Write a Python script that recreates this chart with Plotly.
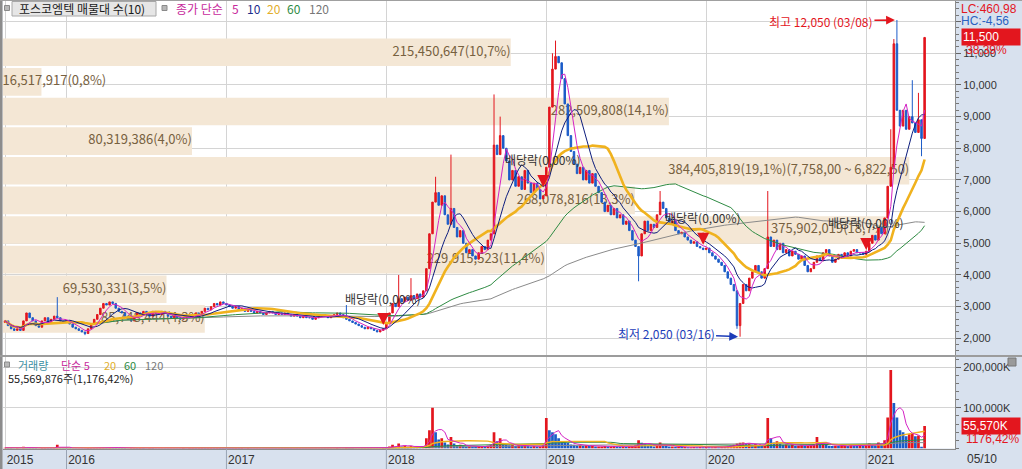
import numpy as np
import pandas as pd
import plotly.graph_objects as go

W, H = 1022, 469
FONT = "Noto Sans CJK KR"
NUM_FONT = "Liberation Sans"

# ---------------- data (weekly candles, KRW) ----------------
CLOSE_2015 = [2550, 2400, 2300, 2250, 2300, 2250, 2550, 2800, 2650, 2550, 2400, 2350, 2550, 2650,
              2500, 2600, 2700, 2650, 2550, 2500, 2550]
CLOSE_2016 = [2450, 2350, 2300, 2250, 2200, 2150, 2300, 2450, 2600, 2750, 2950, 3100, 3050, 3150,
              3100, 2950, 2850, 2800, 2700, 2600, 2550, 2650, 2800, 2750, 2850, 2800, 2700, 2850,
              2800, 2750, 2850, 2800, 2700, 2650, 2700, 2650, 2600, 2650, 2700, 2650, 2700, 2800,
              2750, 2850, 2950, 2900, 3000, 3100, 3050, 3150, 3100, 3050]
CLOSE_2017 = [3000, 2950, 3000, 2900, 2950, 2850, 2900, 2850, 2800, 2850, 2800, 2750, 2800, 2850,
              2800, 2750, 2800, 2750, 2800, 2750, 2700, 2750, 2700, 2650, 2700, 2650, 2650, 2600,
              2650, 2700, 2750, 2700, 2650, 2700, 2750, 2800, 2750, 2650, 2600, 2550, 2500, 2450,
              2400, 2350, 2300, 2350, 2300, 2250, 2200, 2250, 2300]
CLOSE_2018 = [2500, 2800, 3100, 3000, 3250, 3150, 3300, 3200, 3350, 3250, 3400, 3300, 3500, 4200,
              5300, 6300, 6600, 6200, 6500, 5900, 5600, 6100, 5500, 5200, 5400, 5000, 4700, 4800,
              4600, 4500, 4700, 4900, 4800, 5100, 5300, 8100, 7800, 8400, 8000, 7600, 7000, 7300,
              6800, 7100, 6700, 7300, 6900, 6600, 6900, 6700, 6400, 6500, 7400]
CLOSE_2019 = [9300, 10500, 10900, 10700, 10200, 9400, 8400, 7900, 7500, 7200, 7400, 7000, 7300,
              6900, 7200, 6800, 6600, 6300, 6000, 6200, 5900, 6100, 5800, 5900, 5600, 5700, 5400,
              5100, 4900, 4600, 5300, 5700, 5400, 5600, 5500, 5900, 6300, 6100, 5800, 5600, 5700,
              5400, 5300, 5350, 5200, 5100, 5000, 5050, 4900, 4850, 4800, 4850]
CLOSE_2020 = [4700, 4600, 4500, 4400, 4300, 4100, 3900, 3700, 3500, 2400, 3100, 3700, 3500, 3900,
              4100, 4300, 4100, 3900, 4200, 5200, 4900, 5100, 4800, 5000, 4700, 4800, 4600, 4750,
              4650, 4500, 4600, 4300, 4100, 4200, 4400, 4600, 4450, 4700, 4800, 4600, 4400, 4500,
              4650, 4550, 4700, 4600, 4750, 4800, 4700, 4700, 4650, 4750]
CLOSE_2021 = [5000, 5250, 5100, 5500, 5300, 5800, 6800, 7400, 11300, 9200, 8700, 9200, 8600, 9000,
              8800, 8500, 8900, 8310, 11500]
FIRST_OPEN = 2500

HIGH_MARKS = {"2015-12-07": 3300, "2017-09-25": 3050, "2018-01-29": 4000, "2018-02-26": 3900,
              "2018-04-23": 7100, "2018-05-28": 7800, "2018-09-03": 9700, "2018-09-17": 9000,
              "2019-01-14": 11000, "2019-01-21": 11400, "2019-09-16": 6650, "2020-05-18": 6650,
              "2021-02-22": 8600, "2021-03-01": 11450, "2021-03-08": 12050, "2021-04-12": 10150,
              "2021-04-26": 9750}
LOW_MARKS = {"2016-02-08": 2100, "2019-07-29": 3800, "2020-03-09": 2300, "2020-03-16": 2050,
             "2021-05-03": 7750}

# weekly volume, thousand shares
VOLUME_2015 = [1800, 1300, 1000, 900, 1100, 800, 4500, 3800, 1900, 1300, 1000, 900, 1200, 1600,
               1100, 1000, 1900, 9500, 2600, 1400, 1200]
VOLUME_2016 = [1000, 900, 800, 800, 700, 900, 1400, 1800, 2200, 2600, 3400, 3800, 2900, 3300, 2400,
               1700, 1300, 1100, 1000, 900, 1100, 1300, 1000, 1200, 1000, 900, 1100, 1000, 900, 800,
               900, 800, 700, 800, 900, 800, 900, 1000, 900, 1100, 1200, 1000, 1300, 1600, 1400,
               1800, 2100, 1700, 2300, 1900, 1500, 1300]
VOLUME_2017 = [1200, 1100, 1300, 1000, 1100, 900, 1000, 900, 800, 900, 800, 700, 800, 900, 800, 700,
               800, 700, 800, 700, 600, 700, 600, 700, 600, 600, 600, 700, 800, 900, 800, 700, 700,
               800, 900, 1000, 900, 800, 3200, 1500, 1100, 900, 800, 700, 700, 600, 600, 700, 800,
               900, 1100]
VOLUME_2018 = [2500, 5000, 9000, 4000, 12000, 5000, 7000, 4000, 6000, 3500, 5000, 3500, 6000, 25000,
               45000, 100000, 40000, 22000, 25000, 15000, 10000, 28000, 12000, 8000, 9000, 7000,
               5000, 5000, 4500, 4000, 5000, 6000, 5000, 7000, 9000, 40000, 18000, 25000, 12000,
               9000, 8000, 9000, 6000, 8000, 6000, 9000, 6000, 5000, 6000, 5000, 5000, 8000, 75000]
VOLUME_2019 = [45000, 40000, 35000, 25000, 16000, 15000, 14000, 10000, 9000, 7000, 8000, 6000, 8000,
               6000, 7000, 5000, 5000, 5000, 6000, 5000, 5000, 6000, 5000, 4500, 5000, 4000, 5000,
               6000, 8000, 20000, 14000, 12000, 7000, 6000, 5000, 8000, 15000, 9000, 6000, 5000,
               5000, 4000, 4000, 3500, 3500, 3000, 3000, 3500, 3000, 3500, 3000, 3500]
VOLUME_2020 = [3000, 3000, 3500, 3000, 4000, 5000, 6000, 7000, 9000, 12000, 14000, 15000, 12000,
               12000, 10000, 11000, 7000, 6000, 9000, 75000, 25000, 15000, 18000, 12000, 9000, 10000,
               8000, 9000, 7000, 7000, 8000, 6000, 6000, 8000, 10000, 28000, 10000, 12000, 10000,
               7000, 6000, 7000, 6000, 6000, 7000, 6000, 8000, 7000, 6000, 7000, 6000, 8000]
VOLUME_2021 = [12000, 9000, 8000, 15000, 10000, 20000, 76000, 193000, 112000, 76000, 45000, 40000,
               30000, 35000, 38000, 30000, 32000, 4354, 55570]

NO_TRADE_WEEKS = ["2017-10-02"]

# volume profile (매물대), bottom band first
PROFILE_LOW, PROFILE_HIGH = 2145.0, 11500.0
PROFILE_VOLUMES = [85748444, 69530331, 229915523, 375902019, 268078816, 384405819, 80319386,
                   282509808, 16517917, 215450647]

EX_DIV_WEEKS = ["2017-12-25", "2018-12-24", "2019-12-23", "2020-12-28"]
EX_DIV_LEVEL = [2420, 6780, 4950, 4790]

YEAR_TICKS = ["2015-08-10", "2015-12-28", "2016-12-26", "2018-01-01", "2018-12-31", "2019-12-30",
              "2020-12-28"]
YEAR_LABELS = ["2015", "2016", "2017", "2018", "2019", "2020", "2021"]

# ---------------- derived ----------------
weeks = pd.date_range("2015-08-10", "2021-05-10", freq="W-MON")
weeks = weeks[~weeks.isin(pd.to_datetime(NO_TRADE_WEEKS))]
dates = [d.strftime("%Y-%m-%d") for d in weeks]
close = CLOSE_2015 + CLOSE_2016 + CLOSE_2017 + CLOSE_2018 + CLOSE_2019 + CLOSE_2020 + CLOSE_2021
volume = VOLUME_2015 + VOLUME_2016 + VOLUME_2017 + VOLUME_2018 + VOLUME_2019 + VOLUME_2020 + VOLUME_2021
assert len(close) == len(dates) == len(volume), (len(close), len(dates), len(volume))

opens = [FIRST_OPEN] + close[:-1]
high = [max(o, c) for o, c in zip(opens, close)]
low = [min(o, c) for o, c in zip(opens, close)]
for d, v in HIGH_MARKS.items():
    high[dates.index(d)] = v
for d, v in LOW_MARKS.items():
    low[dates.index(d)] = v

cs = pd.Series(close, dtype=float)
vs = pd.Series(volume, dtype=float)

RED = "#E3161E"
BLUE = "#1C5CC8"
C_MA5, C_MA10, C_MA20, C_MA60, C_MA120 = "#D424C4", "#0E1E7E", "#F0B21E", "#2E8B43", "#8A8A8A"
GRID = "#D4D4D4"
PANEL = "#D8E1EE"

def px(x):
    return x / W

def py(y):
    return 1 - y / H

X0, X1 = 2.5, 955.0
SLOT, FIRST_X = 3.0756, 5.0
PRICE_PX, Y2000 = 0.03167, 338.3
price_top = 2000 + Y2000 / PRICE_PX
price_bot = 2000 - (355 - Y2000) / PRICE_PX

edges = np.linspace(PROFILE_LOW, PROFILE_HIGH, len(PROFILE_VOLUMES) + 1)
step = edges[1] - edges[0]
centers = (edges[:-1] + edges[1:]) / 2
total = sum(PROFILE_VOLUMES)
vmax = max(PROFILE_VOLUMES)
PROFILE_SPAN = vmax / 0.952
lab_x, lab_t, lab_p = [], [], []
for k, v in enumerate(PROFILE_VOLUMES):
    lab = f"{v:,}({v / total * 100:.1f}%)".replace(".", ",")
    if v == vmax:
        lab += f"({edges[k + 1]:,.2f} ~ {edges[k]:,.2f})".replace(".", ",")
    band_px = v / PROFILE_SPAN * (X1 - X0)
    if band_px >= 7.0 * len(lab) + 4:
        lab_x.append(v); lab_p.append("middle left")
    else:
        lab_x.append(0); lab_p.append("middle right")
    lab_t.append(lab)

fig = go.Figure()
fig.add_trace(go.Bar(x=PROFILE_VOLUMES, y=centers, orientation="h", width=step * 0.93,
                     marker=dict(color="#F4E7D5", line=dict(width=0)), xaxis="x", yaxis="y",
                     hoverinfo="skip"))
fig.add_trace(go.Scatter(x=lab_x, y=centers, mode="text", text=lab_t, textposition=lab_p,
                         textfont=dict(family=FONT, size=13, color="#77613F"), xaxis="x", yaxis="y",
                         hoverinfo="skip"))
fig.add_trace(go.Candlestick(x=dates, open=opens, high=high, low=low, close=close,
                             xaxis="x2", yaxis="y", whiskerwidth=0, hoverinfo="none",
                             increasing=dict(line=dict(color=RED, width=1), fillcolor=RED),
                             decreasing=dict(line=dict(color=BLUE, width=1), fillcolor=BLUE)))
for n, col, wd in [(120, C_MA120, 1), (60, C_MA60, 1), (20, C_MA20, 2.6), (10, C_MA10, 1), (5, C_MA5, 1)]:
    fig.add_trace(go.Scatter(x=dates, y=cs.rolling(n, min_periods=1).mean(), mode="lines",
                             line=dict(color=col, width=wd), xaxis="x2", yaxis="y", hoverinfo="skip"))

vcolor = [RED] + [RED if volume[k] >= volume[k - 1] else BLUE for k in range(1, len(volume))]
fig.add_trace(go.Bar(x=dates, y=volume, marker=dict(color=vcolor, line=dict(width=0)),
                     xaxis="x3", yaxis="y2", hoverinfo="skip"))
for n, col, wd in [(120, C_MA120, 1), (60, C_MA60, 1), (20, C_MA20, 1.4), (5, C_MA5, 1)]:
    fig.add_trace(go.Scatter(x=dates, y=vs.rolling(n, min_periods=1).mean(), mode="lines",
                             line=dict(color=col, width=wd), xaxis="x3", yaxis="y2", hoverinfo="skip"))

xrange = [(X0 - FIRST_X) / SLOT, (X1 - FIRST_X) / SLOT]
xd = [px(X0), px(X1)]
tickfont_y = dict(family=NUM_FONT, size=11, color="#333333")

fig.update_layout(
    width=W, height=H, margin=dict(l=0, r=0, t=0, b=0, autoexpand=False),
    paper_bgcolor=PANEL, plot_bgcolor="white", showlegend=False, bargap=0.12,
    hovermode=False, dragmode=False,
    font=dict(family=FONT, size=12, color="#222"),
    xaxis=dict(domain=xd, range=[0, PROFILE_SPAN], visible=False, anchor="y", fixedrange=True,
               automargin=False),
    xaxis2=dict(type="category", overlaying="x", anchor="y", range=xrange, tickvals=YEAR_TICKS,
                showticklabels=False, showgrid=True, gridcolor=GRID, gridwidth=1, ticks="",
                showline=False, zeroline=False, rangeslider=dict(visible=False), automargin=False),
    xaxis3=dict(type="category", anchor="y2", domain=xd, matches="x2", tickvals=YEAR_TICKS,
                ticktext=YEAR_LABELS, showgrid=True, gridcolor=GRID, ticks="", ticklabelshift=15,
                tickfont=dict(family=NUM_FONT, size=12, color="#333"), automargin=False,
                showline=True, linecolor="#8C8C8C", linewidth=1, rangeslider=dict(visible=False)),
    yaxis=dict(domain=[py(355), 1.0], range=[price_bot, price_top], side="right", anchor="x",
               tickvals=list(range(2000, 12001, 1000)),
               ticktext=[f"{v:,}" if v < 12000 else "" for v in range(2000, 12001, 1000)],
               showgrid=True, gridcolor=GRID, ticks="outside", ticklen=5, tickcolor="#666",
               showline=True, linecolor="#8C8C8C", zeroline=False, tickfont=tickfont_y,
               automargin=False,
               minor=dict(dtick=200, ticks="outside", ticklen=3, tickcolor="#777", showgrid=False)),
    yaxis2=dict(domain=[py(448.5), py(357)], range=[0, 225000], side="right", anchor="x3",
                tickvals=[100000, 200000], ticktext=["100,000K", "200,000K"],
                showgrid=True, gridcolor=GRID, ticks="outside", ticklen=5, tickcolor="#666",
                showline=True, linecolor="#8C8C8C", zeroline=False, tickfont=tickfont_y,
                automargin=False,
                minor=dict(dtick=20000, ticks="outside", ticklen=3, tickcolor="#777", showgrid=False)),
)

shapes = [
    dict(type="rect", xref="paper", yref="paper", x0=0, x1=px(2.5), y0=0, y1=1,
         fillcolor="#8C8C8C", line=dict(width=0)),
    dict(type="rect", xref="paper", yref="paper", x0=0, x1=1, y0=py(357), y1=py(355),
         fillcolor="#9C9C9C", line=dict(width=0)),
    dict(type="rect", xref="paper", yref="paper", x0=0, x1=1, y0=py(1), y1=1,
         fillcolor="#A0A0A0", line=dict(width=0)),
    dict(type="rect", xref="paper", yref="paper", x0=px(12), x1=px(156), y0=py(16), y1=py(1.5),
         fillcolor="#E6E6E6", line=dict(color="#A8A8A8", width=1)),
]
for sx, sy in [(4.5, 5.5), (162, 5.5), (4.5, 362)]:
    shapes.append(dict(type="rect", xref="paper", yref="paper", x0=px(sx), x1=px(sx + 5),
                       y0=py(sy + 5), y1=py(sy), fillcolor="#B8B8B8",
                       line=dict(color="#8A8A8A", width=1)))
# separators between year cells in the date strip
for t in YEAR_TICKS[1:]:
    shapes.append(dict(type="line", xref="x3", yref="paper", x0=dates.index(t), x1=dates.index(t),
                       y0=0, y1=py(448.5), line=dict(color="#9AA4B4", width=1)))
# small close box in the volume axis corner
shapes.append(dict(type="rect", xref="paper", yref="paper", x0=px(1008), x1=px(1016),
                   y0=py(366), y1=py(358), fillcolor="#9A9A9A", line=dict(color="#777", width=1)))
fig.update_layout(shapes=shapes)

anns = []

def note(x, y, text, color, size=12, family=FONT, **kw):
    d = dict(x=px(x), y=py(y), xref="paper", yref="paper", text=text, showarrow=False,
             xanchor="left", yanchor="middle", font=dict(family=family, size=size, color=color))
    d.update(kw)
    anns.append(d)

note(17, 8.5, "포스코엠텍 매물대 수(10)", "#1A1A1A")
note(174, 8.5, "종가 단순", "#C72A9C")
note(230, 8.5, "5", "#C72A9C")
note(245, 8.5, "10", "#1C2C8C")
note(265, 8.5, "20", "#E2AE2A")
note(285, 8.5, "60", "#2E8B43")
note(307, 8.5, "120", "#777777")
note(16, 364.5, "거래량", "#3B8FA3", size=11)
note(59, 364.5, "단순 5", "#C72A9C", size=11)
note(102, 364.5, "20", "#E2AE2A", size=11)
note(122, 364.5, "60", "#2E8B43", size=11)
note(143, 364.5, "120", "#777777", size=11)
note(6, 378, "55,569,876주(1,176,42%)", "#222222", size=11)
note(959, 9, "LC:460,98", RED, family=NUM_FONT)
note(959, 21.5, "HC:-4,56", "#2A62C2", family=NUM_FONT)
note(965, 459, pd.Timestamp(dates[-1]).strftime("%m/%d"), "#333333", family=NUM_FONT)

last_c, prev_c = close[-1], close[-2]
anns.append(dict(x=px(961), xref="paper", y=last_c, yref="y", text=f"{last_c:,}", showarrow=False,
                 xanchor="left", yanchor="middle", bgcolor=RED, width=56, align="left",
                 borderpad=1, font=dict(family=NUM_FONT, size=12, color="white")))
anns.append(dict(x=px(964), xref="paper", y=last_c, yref="y", yshift=-13,
                 text=f"{(last_c / prev_c - 1) * 100:.2f}%".replace(".", ","), showarrow=False,
                 xanchor="left", yanchor="middle", font=dict(family=NUM_FONT, size=12, color=RED)))
last_v = volume[-1]
anns.append(dict(x=px(961), xref="paper", y=last_v, yref="y2", text=f"{last_v:,}K", showarrow=False,
                 xanchor="left", yanchor="middle", bgcolor=RED, width=56, align="left",
                 borderpad=1, font=dict(family=NUM_FONT, size=12, color="white")))
anns.append(dict(x=px(964), xref="paper", y=last_v, yref="y2", yshift=-13, text="1176,42%",
                 showarrow=False, xanchor="left", yanchor="middle",
                 font=dict(family=NUM_FONT, size=12, color=RED)))

hi_i = int(np.argmax(high))
lo_i = int(np.argmin(low))
anns.append(dict(x=hi_i, xref="x2", y=high[hi_i], yref="y",
                 text=f"최고 {high[hi_i]:,} ({pd.Timestamp(dates[hi_i]).strftime('%m/%d')})",
                 showarrow=True, ax=-76, ay=1, axref="pixel", ayref="pixel", arrowhead=2,
                 arrowsize=1.1, arrowwidth=1.6, arrowcolor=RED, standoff=2,
                 font=dict(size=12, color=RED)))
anns.append(dict(x=lo_i, xref="x2", y=low[lo_i], yref="y",
                 text=f"최저 {low[lo_i]:,} ({pd.Timestamp(dates[lo_i]).strftime('%m/%d')})",
                 showarrow=True, ax=-74, ay=-3, arrowhead=2, arrowsize=1.1, arrowwidth=1.6,
                 arrowcolor="#1C3CB8", standoff=2, font=dict(size=12, color="#1C3CB8")))
for d, lv in zip(EX_DIV_WEEKS, EX_DIV_LEVEL):
    anns.append(dict(x=dates.index(d), xref="x2", y=lv, yref="y", text="배당락(0,00%)",
                     showarrow=True, ax=0, ay=-27, arrowhead=2, arrowsize=1.5, arrowwidth=1.6,
                     arrowcolor=RED, startstandoff=5, standoff=0,
                     font=dict(size=12, color="#333333")))
fig.update_layout(annotations=anns)

fig.write_html("out.html", config={"displayModeBar": False, "staticPlot": True},
               post_script="document.body.style.margin='0px';document.body.style.padding='0px';")
